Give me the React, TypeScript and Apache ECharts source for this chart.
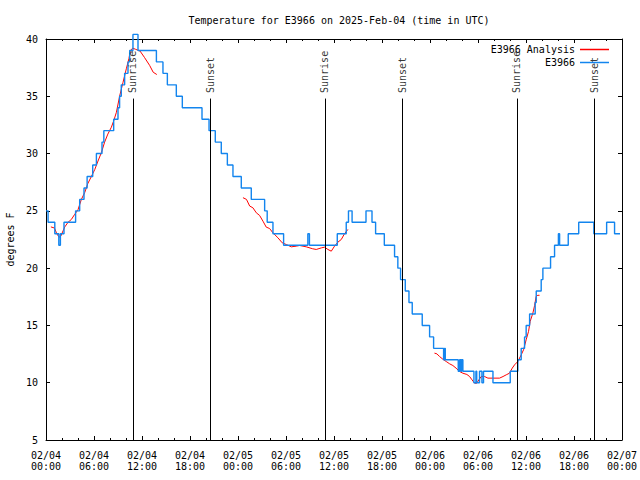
import React, { useEffect, useRef } from "react";
import * as echarts from "echarts";

const FONT = "'DejaVu Sans Mono', 'Liberation Mono', monospace";
const BLUE = "#1385ee";
const RED = "#ff0000";

const titleText = "Temperature for E3966 on 2025-Feb-04 (time in UTC)";
const yAxisName = "degrees F";

// x is hours since 2025-02-04 00:00 UTC
const xTickLabels = [
  "02/04\n00:00", "02/04\n06:00", "02/04\n12:00", "02/04\n18:00",
  "02/05\n00:00", "02/05\n06:00", "02/05\n12:00", "02/05\n18:00",
  "02/06\n00:00", "02/06\n06:00", "02/06\n12:00", "02/06\n18:00",
  "02/07\n00:00",
];

const sunriseHours = [10.87, 34.87, 58.87];
const sunsetHours = [20.5, 44.5, 68.5];

// E3966 observations: [hour, degF] at each change of reading
const e3966Obs: [number, number][] = [
  [0, 25], [0.26, 24], [1.1, 23], [1.6, 22], [1.8, 23], [2.25, 24], [3.7, 25],
  [4.21, 26], [4.75, 27], [5.14, 28], [5.84, 29], [6.3, 30], [7.0, 31], [7.23, 32],
  [8.46, 33], [9.0, 34], [9.2, 35], [9.41, 36], [9.83, 37], [10.25, 38], [10.46, 39],
  [10.87, 40.4], [11.5, 39], [13.8, 38], [14.62, 37], [15.17, 36], [16.29, 35],
  [17.04, 34], [19.5, 33], [20.38, 32], [21.16, 31], [21.91, 30], [22.67, 29],
  [23.37, 28], [24.41, 27], [25.66, 26], [27.33, 25], [27.65, 24], [28.37, 23],
  [29.7, 22], [32.73, 23], [32.93, 22], [36.41, 23], [37.53, 24], [37.81, 25],
  [38.26, 24], [40.0, 25], [40.75, 24], [41.2, 23], [42.29, 22], [43.57, 21],
  [43.98, 20], [44.32, 19], [44.91, 18], [45.37, 17], [45.78, 16], [47.03, 15],
  [47.95, 14], [48.45, 13], [49.7, 12], [49.81, 13], [49.91, 12], [51.53, 11],
  [51.7, 12], [51.85, 11], [51.95, 12], [52.11, 11], [53.49, 10], [53.74, 11],
  [53.84, 10], [54.19, 11], [54.49, 10], [54.69, 11], [55.87, 10], [58.03, 11],
  [58.98, 12], [59.4, 13], [59.82, 14], [60.02, 15], [60.45, 16], [61.15, 17],
  [61.28, 18], [61.9, 19], [62.11, 20], [63.07, 21], [63.57, 22], [64.05, 23],
  [64.2, 22], [65.28, 23], [66.59, 24], [68.48, 23], [70.08, 24], [71.07, 23],
  [71.75, 23],
];

// E3966 Analysis, three separate runs
const analysisRun1: [number, number][] = [
  [0.61, 23.6], [1.06, 23.5], [1.35, 23.0], [1.65, 22.7], [1.85, 22.8], [2.35, 23.6],
  [2.75, 24.0], [3.17, 24.25], [3.59, 24.7], [4.0, 25.1], [4.42, 26.0], [4.84, 26.6],
  [5.24, 27.4], [5.67, 28.0], [6.09, 28.6], [6.5, 29.35], [6.93, 30.1], [7.33, 31.0],
  [7.73, 31.7], [8.17, 32.3], [8.46, 32.85], [8.8, 33.6], [9.2, 35.0], [9.62, 36.2],
  [10.04, 37.4], [10.37, 38.3], [10.54, 39.0], [10.85, 39.2], [11.2, 39.1],
  [11.75, 38.95], [12.3, 38.4], [12.95, 37.7], [13.4, 37.1], [13.85, 36.9],
];
const analysisRun2: [number, number][] = [
  [24.62, 26.15], [25.06, 26.0], [25.46, 25.42], [25.86, 25.27], [26.29, 24.83],
  [26.7, 24.6], [27.12, 24.1], [27.53, 23.58], [27.95, 23.46], [28.37, 23.08],
  [28.99, 22.65], [29.53, 22.21], [30.04, 22.06], [30.66, 21.86], [31.28, 21.92],
  [31.7, 21.98], [32.53, 21.86], [33.33, 21.69], [33.78, 21.63], [34.42, 21.77],
  [34.82, 21.83], [35.24, 21.63], [35.66, 21.48], [36.07, 21.92], [36.49, 22.27],
  [36.91, 22.5], [37.31, 23.0], [37.74, 23.38],
];
const analysisRun3: [number, number][] = [
  [48.56, 12.58], [48.86, 12.52], [49.19, 12.29], [49.61, 12.05], [50.03, 11.85],
  [50.45, 11.65], [50.86, 11.5], [51.26, 11.27], [51.7, 10.98], [52.11, 10.83],
  [52.61, 10.72], [52.95, 10.54], [53.25, 10.25], [53.58, 9.96], [53.84, 9.96],
  [54.11, 10.25], [54.4, 10.54], [54.82, 10.54], [55.24, 10.4], [55.87, 10.4],
  [56.69, 10.4], [57.13, 10.54], [57.53, 10.69], [57.93, 10.83], [58.28, 11.27],
  [58.57, 11.56], [58.98, 11.85], [59.4, 12.43], [59.69, 12.87], [60.02, 13.75],
  [60.32, 14.48], [60.52, 15.35], [60.86, 16.08], [61.07, 16.72], [61.27, 17.54],
  [61.48, 17.63], [61.69, 17.63],
];

const SUN_LINE_TOP = 34.8;
const SUN_LABEL_AT = 35.2;
const Y_MIN = 5;

export default function App() {
  const ref = useRef<HTMLDivElement>(null);

  useEffect(() => {
    if (!ref.current) return;
    const chart = echarts.init(ref.current, null, { renderer: "svg" });

    const analysisData: any[] = [
      ...analysisRun1,
      [14.5, null],
      ...analysisRun2,
      [40, null],
      ...analysisRun3,
    ];

    const sunEvents = [
      ...sunriseHours.map((h) => ({ h, name: "Sunrise" })),
      ...sunsetHours.map((h) => ({ h, name: "Sunset" })),
    ];

    const axisLine = { show: true, onZero: false, lineStyle: { color: "#000", width: 1 } };
    const baseText = { fontFamily: FONT, fontSize: 10, color: "#000" };

    const option: any = {
      animation: false,
      textStyle: { fontFamily: FONT },
      title: {
        text: titleText,
        left: 334,
        top: 10,
        textAlign: "center",
        textStyle: { ...baseText, fontWeight: "normal" },
      },
      grid: {
        left: 46,
        right: 18,
        top: 39,
        bottom: 40,
        containLabel: false,
        outerBoundsMode: "none",
      },
      legend: {
        data: [
          { name: "E3966 Analysis", icon: "rect" },
          { name: "E3966", icon: "rect" },
        ],
        orient: "vertical",
        right: 26,
        top: 38,
        align: "right",
        itemWidth: 29,
        itemHeight: 1.5,
        itemGap: 0,
        textStyle: { ...baseText, lineHeight: 13 },
        selectedMode: false,
      },
      xAxis: [
        {
          type: "value",
          min: 0,
          max: 72,
          interval: 6,
          position: "bottom",
          axisLine,
          axisTick: { show: true, inside: true, length: 4, lineStyle: { color: "#000" } },
          minorTick: { show: true, splitNumber: 3, length: 2, lineStyle: { color: "#000" } },
          splitLine: { show: false },
          axisLabel: {
            ...baseText,
            margin: 10,
            lineHeight: 11,
            formatter: (v: number) => xTickLabels[Math.round(v / 6)] ?? "",
          },
        },
        {
          type: "value",
          min: 0,
          max: 72,
          interval: 6,
          position: "top",
          axisLine,
          axisTick: { show: true, inside: true, length: 4, lineStyle: { color: "#000" } },
          minorTick: { show: true, splitNumber: 3, length: 2, lineStyle: { color: "#000" } },
          splitLine: { show: false },
          axisLabel: { show: false },
        },
      ],
      yAxis: [
        {
          type: "value",
          min: 5,
          max: 40,
          interval: 5,
          position: "left",
          name: yAxisName,
          nameLocation: "middle",
          nameGap: 31,
          nameRotate: 90,
          nameTextStyle: { ...baseText },
          axisLine,
          axisTick: { show: true, inside: true, length: 4, lineStyle: { color: "#000" } },
          splitLine: { show: false },
          axisLabel: { ...baseText, margin: 8 },
        },
        {
          type: "value",
          min: 5,
          max: 40,
          interval: 5,
          position: "right",
          axisLine,
          axisTick: { show: true, inside: true, length: 4, lineStyle: { color: "#000" } },
          splitLine: { show: false },
          axisLabel: { show: false },
        },
      ],
      series: [
        {
          name: "E3966 Analysis",
          type: "line",
          data: analysisData,
          symbol: "none",
          connectNulls: false,
          lineStyle: { color: RED, width: 1 },
          itemStyle: { color: RED },
          silent: true,
          z: 3,
        },
        {
          name: "E3966",
          type: "line",
          step: "end",
          data: e3966Obs,
          symbol: "none",
          clip: false,
          lineStyle: { color: BLUE, width: 1.4 },
          itemStyle: { color: BLUE },
          silent: true,
          z: 4,
        },
        {
          name: "sun",
          type: "scatter",
          symbolSize: 1,
          itemStyle: { color: "rgba(0,0,0,0)" },
          silent: true,
          z: 5,
          data: sunEvents.map((e) => ({ value: [e.h, SUN_LABEL_AT], name: e.name })),
          label: {
            show: true,
            position: "inside",
            rotate: 90,
            align: "left",
            verticalAlign: "middle",
            offset: [1, 0],
            formatter: "{b}",
            ...baseText,
          },
          markLine: {
            silent: true,
            symbol: ["none", "none"],
            label: { show: false },
            lineStyle: { color: "#000", width: 1, type: "solid" },
            data: sunEvents.map((e) => [
              { coord: [e.h, Y_MIN] },
              { coord: [e.h, SUN_LINE_TOP] },
            ]),
          },
        },
      ],
    };

    chart.setOption(option);
    return () => chart.dispose();
  }, []);

  return <div ref={ref} style={{ width: 640, height: 480, position: "absolute", left: 0, top: 0 }} />;
}
